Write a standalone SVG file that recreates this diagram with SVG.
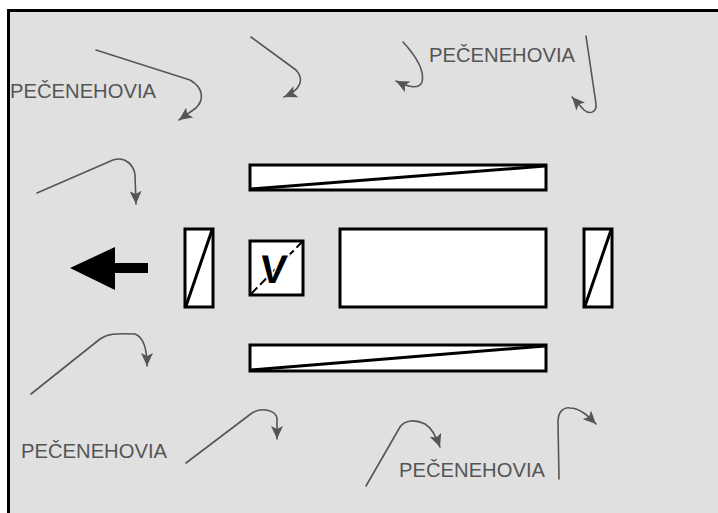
<svg xmlns="http://www.w3.org/2000/svg" width="718" height="513" viewBox="0 0 718 513">
  <defs>
    <style>
      .box { fill: #ffffff; stroke: #000000; stroke-width: 3; }
      .diag { stroke: #000000; stroke-width: 3; fill: none; }
      .flow { fill: none; stroke: #555555; stroke-width: 1.6; stroke-linejoin: round; stroke-linecap: round; }
      .lbl { font-family: "Liberation Sans", Arial, sans-serif; font-size: 20px; fill: #555555; }
    </style>
    <marker id="ah" markerUnits="userSpaceOnUse" markerWidth="14" markerHeight="12" refX="13" refY="6" orient="auto">
      <path d="M0,0 L13,6 L0,12 L3,6 z" fill="#555555"/>
    </marker>
  </defs>

  <rect x="0" y="0" width="718" height="513" fill="#ffffff"/>
  <rect x="8" y="10" width="710" height="503" fill="#e0e0e0"/>
  <path d="M8.5,513 L8.5,10.5 L718,10.5" fill="none" stroke="#000000" stroke-width="3"/>

  <g id="bar-top">
    <rect class="box" x="250" y="165" width="296" height="25"/>
    <line class="diag" x1="251" y1="189" x2="545" y2="166"/>
  </g>
  <g id="bar-bottom">
    <rect class="box" x="250" y="345" width="296" height="26"/>
    <line class="diag" x1="251" y1="370" x2="545" y2="346"/>
  </g>
  <g id="post-left">
    <rect class="box" x="185" y="229" width="28" height="78"/>
    <line class="diag" x1="186" y1="306" x2="212" y2="230"/>
  </g>
  <g id="post-right">
    <rect class="box" x="584" y="229" width="28" height="78"/>
    <line class="diag" x1="585" y1="306" x2="611" y2="230"/>
  </g>
  <g id="main-block">
    <rect class="box" x="340" y="229" width="206" height="78"/>
  </g>
  <g id="v-box">
    <rect class="box" x="250" y="241" width="53" height="54"/>
    <line x1="251" y1="294" x2="302" y2="242" stroke="#000000" stroke-width="2" stroke-dasharray="9,4"/>
    <text x="272" y="283" text-anchor="middle" transform="translate(272 283) skewX(-6) translate(-272 -283)" font-family="Liberation Sans, Arial, sans-serif" font-size="40" font-weight="bold" fill="#000000" stroke="#ffffff" stroke-width="3" paint-order="stroke">V</text>
  </g>
  <g id="direction-arrow">
    <polygon points="70,268 115,247 115,263 148,263 148,273 115,273 115,290" fill="#000000"/>
  </g>

  <g id="labels">
    <text class="lbl" x="10" y="98" textLength="146" lengthAdjust="spacingAndGlyphs">PEČENEHOVIA</text>
    <text class="lbl" x="429" y="62" textLength="146" lengthAdjust="spacingAndGlyphs">PEČENEHOVIA</text>
    <text class="lbl" x="21" y="458" textLength="146" lengthAdjust="spacingAndGlyphs">PEČENEHOVIA</text>
    <text class="lbl" x="399" y="477" textLength="146" lengthAdjust="spacingAndGlyphs">PEČENEHOVIA</text>
  </g>

  <g id="connectors">
    <path class="flow" marker-end="url(#ah)" d="M96,50 L190,80 C204,88 204,100 196,108 L179,120"/>
    <path class="flow" marker-end="url(#ah)" d="M251,37 L296,70 C305,80 300,90 284,97"/>
    <path class="flow" marker-end="url(#ah)" d="M403,42 C415,55 425,70 422,82 C419,89 410,88 396,81"/>
    <path class="flow" marker-end="url(#ah)" d="M586,36 L596,104 C597,112 590,115 584,110 L572,97"/>
    <path class="flow" marker-end="url(#ah)" d="M37,193 L113,160 C125,156 134,165 135,175 L136,204"/>
    <path class="flow" marker-end="url(#ah)" d="M31,394 L100,339 C107,334 115,333 135,334 C143,337 147,347 147,366"/>
    <path class="flow" marker-end="url(#ah)" d="M186,463 L252,413 C262,407 275,410 277,418 L277,439"/>
    <path class="flow" marker-end="url(#ah)" d="M366,486 L400,427 C405,420 415,419 425,424 C432,428 436,436 440,447"/>
    <path class="flow" marker-end="url(#ah)" d="M559,479 L558,422 C558,410 565,407 570,408 C580,408 588,416 596,424"/>
  </g>
</svg>
